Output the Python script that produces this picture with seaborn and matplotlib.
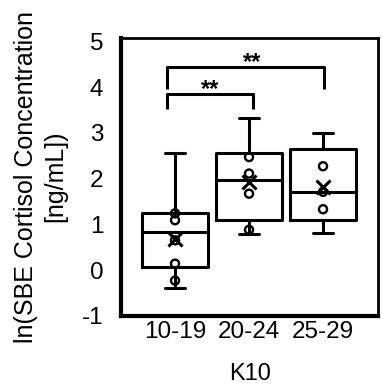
import numpy as np
import pandas as pd
import matplotlib
matplotlib.use("Agg")
import matplotlib.pyplot as plt
import seaborn as sns

# ---- data ----
groups = ["10-19", "20-24", "25-29"]
whisker_low = [-0.39, 0.79, 0.81]
q1 = [0.06, 1.09, 1.09]
median = [0.83, 1.96, 1.71]
q3 = [1.24, 2.55, 2.64]
whisker_high = [2.55, 3.32, 2.99]
means = [0.68, 1.93, 1.82]
points_1019 = [1.24, 1.09, 0.65, 0.14, -0.23]
points_2024 = [2.47, 2.11, 1.67, 0.88]
points_2529 = [2.27, 1.71, 1.33]
y_ticks = [-1, 0, 1, 2, 3, 4, 5]
sig_labels = ["**", "**"]

sns.set_theme(style="white")
plt.rcParams["font.family"] = ["Liberation Sans", "DejaVu Sans"]
plt.rcParams["text.color"] = "black"
plt.rcParams["axes.labelcolor"] = "black"
plt.rcParams["xtick.color"] = "black"
plt.rcParams["ytick.color"] = "black"

# five-number summaries per group (n=5 -> linear percentiles hit them exactly)
box_df = pd.DataFrame({
    "K10": np.repeat(groups, 5),
    "value": np.ravel(np.column_stack([whisker_low, q1, median, q3, whisker_high])),
})
pts_df = pd.DataFrame({
    "K10": ["10-19"] * len(points_1019) + ["20-24"] * len(points_2024) + ["25-29"] * len(points_2529),
    "value": points_1019 + points_2024 + points_2529,
})
mean_df = pd.DataFrame({"K10": groups, "value": means})

fig = plt.figure(figsize=(3.82, 3.84), dpi=100)
ax = fig.add_axes([121.3 / 382, (384 - 315.8) / 384, (378 - 121.3) / 382, (315.8 - 37.7) / 384])

sns.boxplot(data=box_df, x="K10", y="value", order=groups, whis=(0, 100),
            width=0.9, fill=False, color="black", linewidth=2.2,
            capwidths=0.28, showfliers=False, ax=ax)
sns.stripplot(data=pts_df, x="K10", y="value", order=groups, jitter=False,
              size=5.8, color="black", facecolors="none", edgecolor="black",
              linewidth=1.7, zorder=4, ax=ax)
sns.pointplot(data=mean_df, x="K10", y="value", order=groups, errorbar=None,
              markers="x", linestyles="none", color="black",
              markersize=10, markeredgewidth=2.2, ax=ax)

# significance brackets
lw = 2.2
ax.plot([-0.104, -0.104, 2.017, 2.017], [3.96, 4.43, 4.43, 3.96], color="black", lw=lw, solid_capstyle="butt")
ax.plot([-0.104, -0.104, 1.052, 1.052], [3.52, 3.845, 3.845, 3.52], color="black", lw=lw, solid_capstyle="butt")
ax.text(1.04, 4.40, sig_labels[0], ha="center", va="baseline", fontsize=17, fontweight="bold")
ax.text(0.47, 3.81, sig_labels[1], ha="center", va="baseline", fontsize=17, fontweight="bold")

ax.set_xlim(-0.726, 2.743)
ax.set_ylim(-1, 5.08)
ax.set_yticks(y_ticks)
ax.set_yticklabels([str(t) for t in y_ticks])
ax.set_xlabel("K10", fontsize=17, labelpad=14)
ax.set_ylabel("ln(SBE Cortisol Concentration\n[ng/mL])", fontsize=18, labelpad=10, linespacing=1.3)
ax.tick_params(axis="both", length=0, labelsize=17.5)
ax.tick_params(axis="y", pad=13)
ax.tick_params(axis="x", pad=4)

for side in ["left", "bottom"]:
    ax.spines[side].set_linewidth(3)
for side in ["top", "right"]:
    ax.spines[side].set_linewidth(2)
for s in ax.spines.values():
    s.set_visible(True)
    s.set_color("black")

fig.savefig("out.png", dpi=100)
